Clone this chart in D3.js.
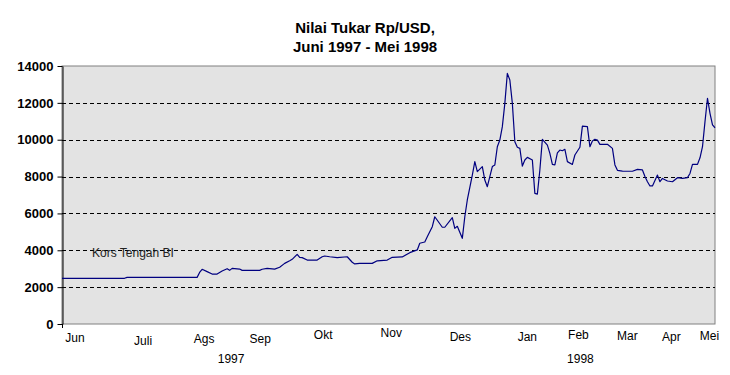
<!DOCTYPE html>
<html>
<head>
<meta charset="utf-8">
<script src="https://cdn.jsdelivr.net/npm/d3@7"></script>
<style>
    body { margin: 0; background: #fff; }
    svg { display: block; font-family: "Liberation Sans", Arial, sans-serif; }
</style>
</head>
<body>
<div id="chart"></div>
<script>
// Nilai tukar Rp/USD, Juni 1997 - Mei 1998 (hari bursa ke-n, kurs)

const obsDay = [
    0, 25, 26, 54, 55, 56, 58, 60, 62, 64, 66, 67, 68, 71, 72, 79, 80, 82, 85, 87,
    89, 91, 92, 94, 95, 96, 98, 102, 104, 105, 107, 110, 114, 116, 117, 119, 124, 126, 130, 132,
    136, 139, 142, 143, 145, 146, 148, 149, 152, 153, 156, 157, 158, 160, 161, 162, 164, 165, 166, 168,
    169, 170, 172, 173, 174, 175, 176, 177, 178, 179, 180, 181, 182, 183, 184, 185, 186, 188, 189, 190,
    191, 192, 194, 195, 196, 197, 198, 199, 200, 201, 202, 204, 205, 207, 208, 210, 211, 212, 213, 214,
    215, 218, 220, 221, 222, 224, 228, 230, 232, 233, 234, 235, 236, 238, 239, 240, 242, 244, 246, 248,
    250, 251, 252, 254, 255, 256, 257, 258, 259, 260, 261
];

const kurs = [
    2480, 2480, 2530, 2530, 2800, 2970, 2840, 2710, 2710, 2880, 3000, 2910, 3020, 2980, 2910, 2910, 2970, 3020, 2980, 3080,
    3290, 3430, 3510, 3780, 3620, 3600, 3470, 3470, 3650, 3690, 3650, 3600, 3650, 3350, 3260, 3290, 3290, 3430, 3470, 3620,
    3640, 3870, 4020, 4380, 4450, 4740, 5280, 5820, 5250, 5250, 5770, 5190, 5300, 4650, 5820, 6730, 8080, 8810, 8270, 8540,
    7810, 7450, 8540, 8630, 9620, 9980, 10710, 11970, 13600, 13240, 11970, 9890, 9590, 9530, 8570, 8900, 9040, 8900, 7090, 7050,
    8360, 10020, 9710, 9260, 8660, 8630, 9290, 9440, 9400, 9480, 8810, 8660, 9170, 9590, 10740, 10710, 9620, 9930, 10020, 9980,
    9750, 9750, 9530, 8630, 8340, 8300, 8290, 8390, 8360, 8000, 7720, 7490, 7490, 8080, 7720, 7900, 7760, 7720, 7940, 7900,
    7940, 8170, 8660, 8660, 9020, 9620, 10980, 12250, 11430, 10800, 10650
];

const monthNames = ['Jun', 'Juli', 'Ags', 'Sep', 'Okt', 'Nov', 'Des', 'Jan', 'Feb', 'Mar', 'Apr', 'Mei'];
const monthDay = [5.2, 32.4, 56.8, 79.2, 104.4, 131.6, 159.2, 186, 206.4, 226, 243.6, 258.8];
// labels sit a little up or down in the original
const monthShift = [0, 3, 1, 1, -3, -5, -1, -1, -3, -2, -1, -2];

const yearNames = ['1997', '1998'];
const yearDay = [67.6, 207.2];

const yTicks = [0, 2000, 4000, 6000, 8000, 10000, 12000, 14000];
const gridTicks = [2000, 4000, 6000, 8000, 10000, 12000];

const titleLines = ['Nilai Tukar Rp/USD,', 'Juni 1997 - Mei 1998'];
const noteText = 'Kors Tengah BI';

const W = 730, H = 375;
const margin = { top: 66, right: 15, bottom: 51, left: 62 };
const width = W - margin.left - margin.right;
const height = H - margin.top - margin.bottom;

const svg = d3.select('#chart').append('svg')
    .attr('width', W)
    .attr('height', H);

// title
svg.append('g')
    .selectAll('text')
    .data(titleLines)
    .join('text')
    .attr('x', 365)
    .attr('y', (d, i) => 33 + i * 19)
    .attr('text-anchor', 'middle')
    .attr('font-size', 15)
    .attr('font-weight', 'bold')
    .text(d => d);

const g = svg.append('g')
    .attr('transform', `translate(${margin.left},${margin.top})`);

const x = d3.scaleLinear().domain([0, 261]).range([0, width]);
const y = d3.scaleLinear().domain([0, 14000]).range([height, 0]);

// plot background + frame
g.append('rect')
    .attr('width', width)
    .attr('height', height)
    .attr('fill', '#e3e3e3')
    .attr('stroke', '#808080')
    .attr('stroke-width', 1);

// dashed grid
g.append('g')
    .selectAll('line')
    .data(gridTicks)
    .join('line')
    .attr('x1', 0)
    .attr('x2', width)
    .attr('y1', d => Math.round(y(d)) + 0.5)
    .attr('y2', d => Math.round(y(d)) + 0.5)
    .attr('stroke', '#000')
    .attr('stroke-dasharray', '4,3');

// y axis
const yAxis = g.append('g')
    .attr('transform', 'translate(0.5,0)')
    .call(d3.axisLeft(y).tickValues(yTicks).tickSize(5).tickSizeOuter(0).tickPadding(4).tickFormat(d => d));
yAxis.select('.domain').attr('stroke', '#000');
yAxis.selectAll('.tick line').attr('stroke', '#000');
yAxis.selectAll('.tick text')
    .attr('font-size', 13)
    .attr('font-weight', 'bold')
    .attr('font-family', '"Liberation Sans", Arial, sans-serif')
    .attr('fill', '#000');

// small tick below the origin
g.append('line')
    .attr('x1', 0.5).attr('x2', 0.5)
    .attr('y1', height).attr('y2', height + 4)
    .attr('stroke', '#000');

// series
const series = obsDay.map((d, i) => ({ day: d, value: kurs[i] }));
const line = d3.line()
    .x(d => x(d.day))
    .y(d => y(d.value));

g.append('path')
    .datum(series)
    .attr('fill', 'none')
    .attr('stroke', '#000080')
    .attr('stroke-width', 1.2)
    .attr('stroke-linejoin', 'round')
    .attr('d', line);

// annotation
g.append('text')
    .attr('x', x(12))
    .attr('y', y(4000) + 7)
    .attr('font-size', 12)
    .attr('fill', '#222')
    .text(noteText);

// month labels
g.append('g')
    .selectAll('text')
    .data(monthNames)
    .join('text')
    .attr('x', (d, i) => x(monthDay[i]))
    .attr('y', (d, i) => height + 18 + monthShift[i])
    .attr('text-anchor', 'middle')
    .attr('font-size', 12)
    .text(d => d);

// year labels
g.append('g')
    .selectAll('text')
    .data(yearNames)
    .join('text')
    .attr('x', (d, i) => x(yearDay[i]))
    .attr('y', height + 39)
    .attr('text-anchor', 'middle')
    .attr('font-size', 12)
    .text(d => d);
</script>
</body>
</html>
